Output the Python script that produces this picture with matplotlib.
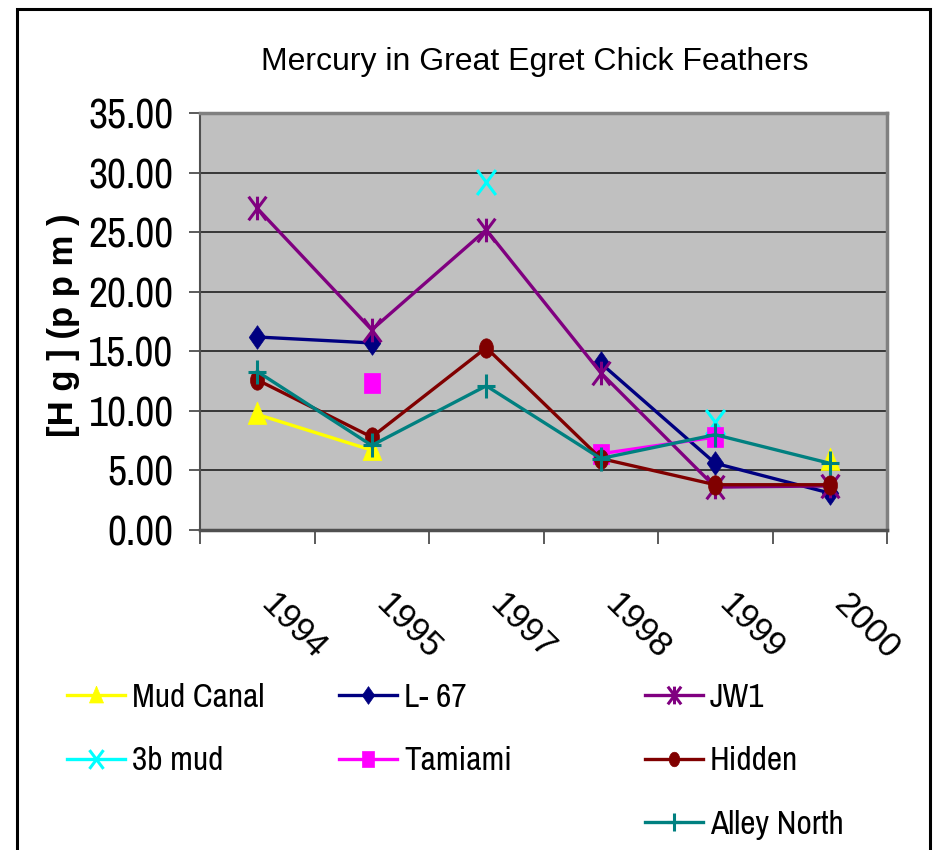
import numpy as np
import matplotlib
matplotlib.use("Agg")
import matplotlib.pyplot as plt
import matplotlib.transforms as mtransforms
from matplotlib.path import Path
from matplotlib.patches import Rectangle

# --- data (nan = no sample that year) ---
years = ["1994", "1995", "1997", "1998", "1999", "2000"]
nan = np.nan
mud_canal = [9.7, 6.7, nan, nan, nan, 5.9]
l67 = [16.2, 15.7, nan, 14.0, 5.6, 3.1]
jw1 = [27.0, 16.8, 25.2, 13.2, 3.6, 3.7]
mud_3b = [nan, nan, 29.2, nan, 9.1, nan]
tamiami = [nan, 12.3, nan, 6.4, 7.8, nan]
hidden = [12.6, 7.8, 15.3, 6.0, 3.8, 3.8]
alley_north = [13.3, 7.1, 12.1, 6.0, 8.0, 5.6]

NARROW = ["Archivo Narrow", "Liberation Sans", "DejaVu Sans"]
ARIAL = ["Liberation Sans", "DejaVu Sans"]

# excel-ish marker shapes (a bit taller than wide)
_t = np.linspace(0, 2 * np.pi, 33)
ELLIPSE = list(zip(0.72 * np.cos(_t), np.sin(_t)))
DIAMOND = [(0, 1), (0.7, 0), (0, -1), (-0.7, 0), (0, 1)]
TRIANGLE = [(0, 1), (0.75, -0.8), (-0.75, -0.8), (0, 1)]
SQUARE = [(-0.75, -1), (0.75, -1), (0.75, 1), (-0.75, 1), (-0.75, -1)]
STAR = Path([(0, -1), (0, 1), (-0.75, -1), (0.75, 1), (-0.75, 1), (0.75, -1)],
            [Path.MOVETO, Path.LINETO] * 3)
XMARK = Path([(-0.75, -1), (0.75, 1), (-0.75, 1), (0.75, -1)],
             [Path.MOVETO, Path.LINETO] * 2)
PLUS = Path([(0, -1), (0, 1), (-0.8, 0), (0.8, 0)],
            [Path.MOVETO, Path.LINETO] * 2)

series = [
    ("Mud Canal", mud_canal, "#FFFF00", TRIANGLE, 18, True),
    ("L- 67", l67, "#000080", DIAMOND, 17, True),
    ("JW1", jw1, "#800080", STAR, 17, False),
    ("3b mud", mud_3b, "#00FFFF", XMARK, 18, False),
    ("Tamiami", tamiami, "#FF00FF", SQUARE, 15, True),
    ("Hidden", hidden, "#800000", ELLIPSE, 14, True),
    ("Alley North", alley_north, "#008080", PLUS, 17, False),
]

fig = plt.figure(figsize=(9.33, 8.5), dpi=100, facecolor="white")
ax = fig.add_axes([200 / 933, 1 - 530 / 850, 687 / 933, 417 / 850])
ax.set_facecolor("#C0C0C0")

x = np.arange(len(years))
handles = {}
for name, vals, col, mk, ms, filled in series:
    ln, = ax.plot(x, vals, color=col, lw=2.4, marker=mk, markersize=ms,
                  markerfacecolor=col if filled else "none",
                  markeredgecolor=col, markeredgewidth=2.2 if not filled else 0.5,
                  label=name, clip_on=False, zorder=3)
    handles[name] = ln

ax.set_ylim(0, 35)
ax.set_xlim(-0.5, len(years) - 0.5)
ax.set_yticks(np.arange(0, 35.1, 5))
ax.set_yticklabels([f"{v:.2f}" for v in np.arange(0, 35.1, 5)],
                   fontsize=30, family=NARROW)
ax.yaxis.grid(True, color="#202020", lw=1.2)
ax.set_axisbelow(True)

# category boundaries get the ticks, the labels sit at the centres
ax.set_xticks(np.arange(-0.5, len(years), 1.0))
ax.set_xticklabels([])
ax.set_xticks(x, minor=True)
ax.set_xticklabels(years, minor=True, fontsize=25, family=ARIAL,
                   rotation=-45, rotation_mode="anchor", ha="left", va="center")
ax.tick_params(axis="x", which="major", length=10, width=1.2, color="#404040", direction="out")
ax.tick_params(axis="x", which="minor", length=0, pad=50)
ax.tick_params(axis="y", length=8, width=1.2, color="#404040", pad=11)
shift = mtransforms.ScaledTranslation(0.09, 0.0, fig.dpi_scale_trans)
for lbl in ax.get_xticklabels(minor=True):
    lbl.set_transform(lbl.get_transform() + shift)

for side in ("top", "right"):
    ax.spines[side].set_color("#808080")
    ax.spines[side].set_linewidth(2.5)
ax.spines["left"].set_color("#505050")
ax.spines["left"].set_linewidth(1.5)
ax.spines["bottom"].set_color("#505050")
ax.spines["bottom"].set_linewidth(2.5)

fig.text(535 / 933, 1 - 62 / 850, "Mercury in Great Egret Chick Feathers",
         ha="center", va="center", fontsize=23, family=ARIAL)
fig.text(64 / 933, 1 - 325 / 850, "[H g ] (p p m )", rotation=90,
         ha="center", va="center", fontsize=25, fontweight="bold", family=ARIAL)

# legend: three columns placed like the original
cols = [
    (67, ["Mud Canal", "3b mud"]),
    (339, ["L- 67", "Tamiami"]),
    (645, ["JW1", "Hidden", "Alley North"]),
]
for left, names in cols:
    fig.legend([handles[n] for n in names], names, loc="upper left",
               bbox_to_anchor=(left / 933, 1 - 683 / 850),
               frameon=False, prop={"family": NARROW, "size": 24},
               handlelength=1.75, handletextpad=0.2, labelspacing=1.0,
               borderaxespad=0, borderpad=0, markerscale=0.75)

fig.patches.append(Rectangle((17 / 933, -0.02), 913 / 933, 1.02 - 9 / 850,
                             transform=fig.transFigure, fill=False,
                             edgecolor="black", lw=2.2))

fig.savefig("out.png", dpi=100, facecolor="white")
